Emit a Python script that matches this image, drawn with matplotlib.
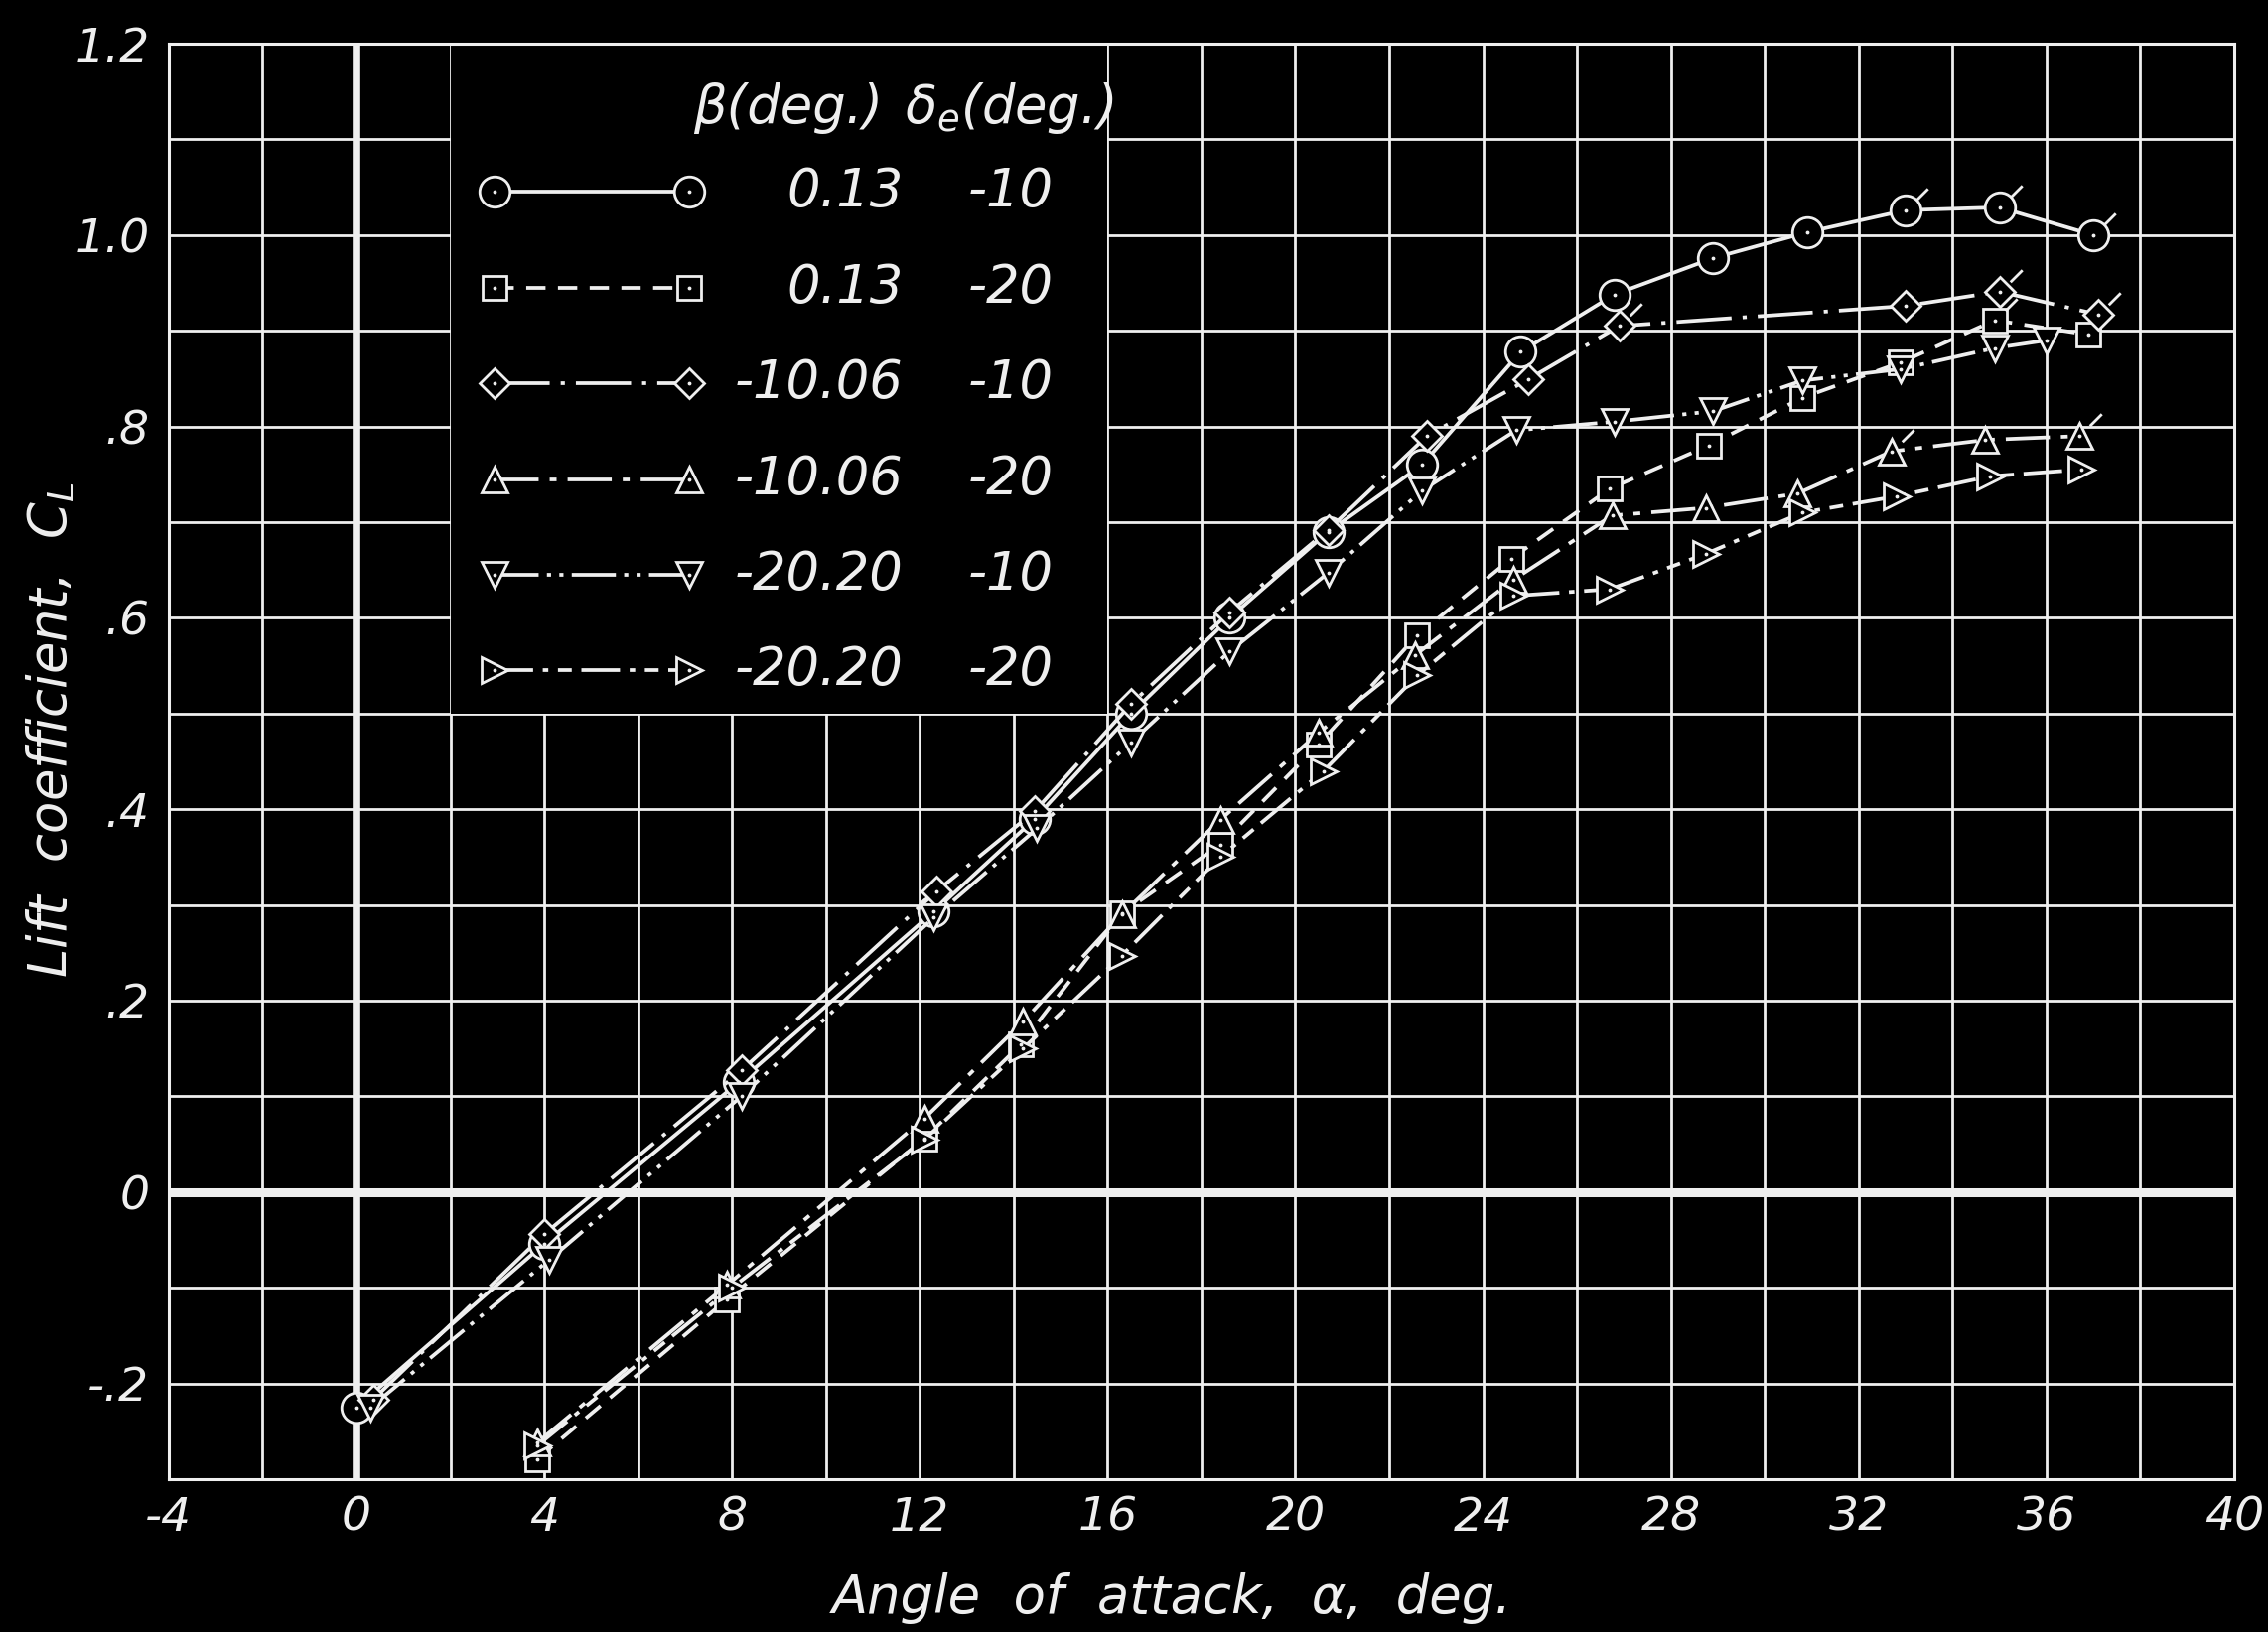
import matplotlib
matplotlib.use('Agg')
import matplotlib.pyplot as plt
import numpy as np
from matplotlib.patches import Rectangle

# ---- data (angle of attack, deg / lift coefficient) ----
alpha_circ = [0.0, 4.0, 8.15, 12.3, 14.45, 16.5, 18.6, 20.7, 22.7, 24.8, 26.8, 28.9, 30.9, 33.0, 35.0, 37.0]
cl_circ = [-0.225, -0.054, 0.115, 0.293, 0.39, 0.50, 0.60, 0.69, 0.76, 0.878, 0.938, 0.976, 1.003, 1.026, 1.029, 1.0]

alpha_sq = [3.85, 7.9, 12.1, 14.15, 16.3, 18.4, 20.5, 22.6, 24.6, 26.7, 28.8, 30.8, 32.9, 34.9, 36.9]
cl_sq = [-0.279, -0.112, 0.056, 0.154, 0.291, 0.363, 0.468, 0.582, 0.662, 0.735, 0.78, 0.83, 0.867, 0.911, 0.896]

alpha_dia = [0.35, 4.0, 8.2, 12.35, 14.45, 16.5, 18.6, 20.7, 22.8, 24.95, 26.9, 33.0, 35.0, 37.1]
cl_dia = [-0.217, -0.044, 0.127, 0.314, 0.398, 0.51, 0.606, 0.692, 0.79, 0.849, 0.905, 0.926, 0.941, 0.917]

alpha_tup = [3.85, 7.9, 12.1, 14.2, 16.3, 18.4, 20.5, 22.55, 24.65, 26.75, 28.75, 30.7, 32.7, 34.7, 36.7]
cl_tup = [-0.262, -0.097, 0.077, 0.178, 0.29, 0.389, 0.48, 0.561, 0.64, 0.707, 0.715, 0.73, 0.774, 0.786, 0.79]

alpha_tdn = [0.3, 4.1, 8.2, 12.3, 14.5, 16.5, 18.6, 20.7, 22.7, 24.7, 26.8, 28.9, 30.8, 32.9, 34.9, 36.0]
cl_tdn = [-0.225, -0.071, 0.10, 0.287, 0.38, 0.47, 0.565, 0.647, 0.733, 0.796, 0.805, 0.816, 0.848, 0.86, 0.882, 0.89]

alpha_trt = [3.85, 8.0, 12.1, 14.2, 16.3, 18.4, 20.6, 22.6, 24.65, 26.7, 28.75, 30.8, 32.8, 34.8, 36.75]
cl_trt = [-0.265, -0.10, 0.055, 0.15, 0.247, 0.35, 0.44, 0.54, 0.623, 0.63, 0.667, 0.71, 0.727, 0.748, 0.755]

# flagged (ticked) symbols, by point index
flags_circ = [13, 14, 15]
flags_sq = [13]
flags_dia = [10, 12, 13]
flags_tup = [12, 14]
flags_tdn = []
flags_trt = []

beta_labels = ['0.13', '0.13', '-10.06', '-10.06', '-20.20', '-20.20']
de_labels = ['-10', '-20', '-10', '-20', '-10', '-20']

x_ticks = [-4, 0, 4, 8, 12, 16, 20, 24, 28, 32, 36, 40]
x_ticklabels = ['-4', '0', '4', '8', '12', '16', '20', '24', '28', '32', '36', '40']
y_ticks = [-0.2, 0.0, 0.2, 0.4, 0.6, 0.8, 1.0, 1.2]
y_ticklabels = ['-.2', '0', '.2', '.4', '.6', '.8', '1.0', '1.2']

# ---- style ----
FG = '#efefef'
plt.rcParams['font.family'] = 'DejaVu Sans'
plt.rcParams['font.style'] = 'oblique'
plt.rcParams['mathtext.fontset'] = 'dejavusans'
plt.rcParams['mathtext.default'] = 'it'
plt.rcParams['lines.scale_dashes'] = False

series = [
    (alpha_circ, cl_circ, flags_circ, 'o', 22, '-'),
    (alpha_sq, cl_sq, flags_sq, 's', 17, (0, (14, 9))),
    (alpha_dia, cl_dia, flags_dia, 'D', 15, (0, (40, 8, 3, 8))),
    (alpha_tup, cl_tup, flags_tup, '^', 19, (0, (32, 8, 5, 8))),
    (alpha_tdn, cl_tdn, flags_tdn, 'v', 19, (0, (32, 6, 3, 6, 3, 6))),
    (alpha_trt, cl_trt, flags_trt, '>', 19, (0, (28, 7, 4, 7, 10, 7))),
]
flag_marker = [(0.46, 0.46), (1.0, 1.0)]
LW = 2.7

fig = plt.figure(figsize=(22.84, 16.44), dpi=100, facecolor='black')
ax = fig.add_axes([0.0744, 0.0937, 0.9107, 0.8795], facecolor='black')

ax.set_xlim(-4, 40)
ax.set_ylim(-0.3, 1.2)
ax.set_xticks(x_ticks)
ax.set_xticklabels(x_ticklabels)
ax.set_xticks(np.arange(-2, 40, 4), minor=True)
ax.set_yticks(y_ticks)
ax.set_yticklabels(y_ticklabels)
ax.set_yticks([-0.3, -0.1, 0.1, 0.3, 0.5, 0.7, 0.9, 1.1], minor=True)
ax.tick_params(which='both', length=0, colors=FG, labelsize=34)
ax.tick_params(axis='x', pad=12)
ax.tick_params(axis='y', pad=14)
ax.grid(True, which='both', color=FG, linewidth=2.0)
ax.set_axisbelow(True)
for sp in ax.spines.values():
    sp.set_color(FG)
    sp.set_linewidth(2.2)

ax.axvline(0, color=FG, linewidth=5.5, zorder=1)
ax.axhline(0, color=FG, linewidth=6.5, zorder=1)

for xs, ys, fl, mk, ms, ls in series:
    ax.plot(xs, ys, color=FG, linestyle=ls, linewidth=LW, zorder=3,
            marker=mk, markersize=ms, markerfacecolor='black',
            markeredgecolor=FG, markeredgewidth=2.0)
    ax.plot(xs, ys, linestyle='none', marker='.', markersize=3.5, color=FG, zorder=4)
    if fl:
        ax.plot([xs[i] for i in fl], [ys[i] for i in fl], linestyle='none',
                marker=flag_marker, markersize=32, markerfacecolor='none',
                markeredgecolor=FG, markeredgewidth=2.0, zorder=4)

# ---- key box ----
ax.add_patch(Rectangle((2, 0.5), 14, 0.7, facecolor='black', edgecolor='none', zorder=1.5))
ax.text(9.2, 1.133, 'β(deg.)', fontsize=38, color=FG, ha='center', va='center', zorder=5)
ax.text(13.9, 1.133, r'$\delta_e$(deg.)', fontsize=38, color=FG, ha='center', va='center', zorder=5)
row_y = 1.045
for (xs, ys, fl, mk, ms, ls), b, d in zip(series, beta_labels, de_labels):
    ax.plot([2.95, 7.08], [row_y, row_y], color=FG, linestyle=ls, linewidth=LW, zorder=5,
            marker=mk, markersize=ms, markerfacecolor='black',
            markeredgecolor=FG, markeredgewidth=2.0)
    ax.plot([2.95, 7.08], [row_y, row_y], linestyle='none', marker='.', markersize=3.5,
            color=FG, zorder=6)
    ax.text(11.65, row_y, b, fontsize=38, color=FG, ha='right', va='center', zorder=5)
    ax.text(14.85, row_y, d, fontsize=38, color=FG, ha='right', va='center', zorder=5)
    row_y -= 0.1

fig.text(1180 / 2284, 1 - 1610 / 1644, 'Angle  of  attack,  α,  deg.', fontsize=38,
         color=FG, ha='center', va='center')
fig.text(51 / 2284, 1 - 735 / 1644, 'Lift  coefficient,  $C_L$', fontsize=38,
         color=FG, ha='center', va='center', rotation=90)

fig.savefig('out.png', dpi=100, facecolor='black')
